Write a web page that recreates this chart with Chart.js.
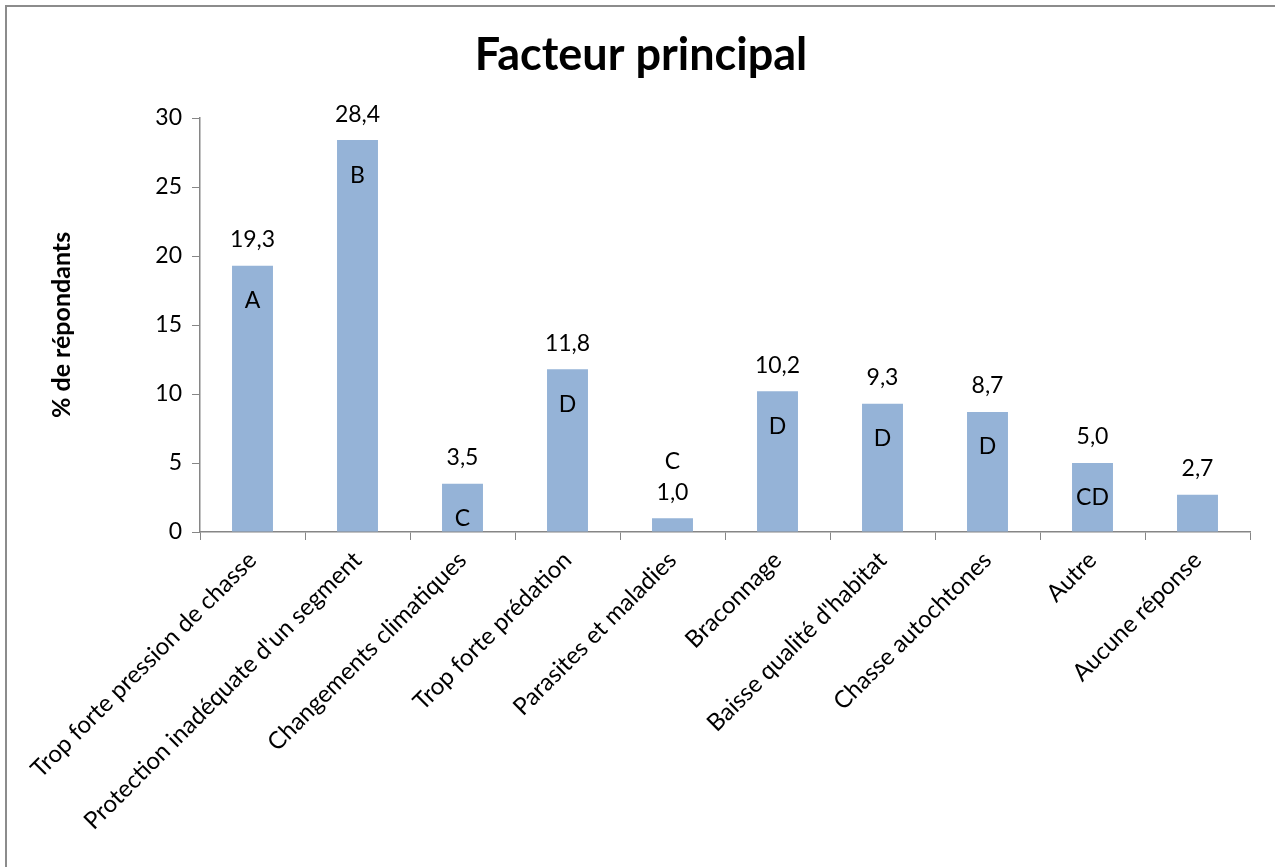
<!DOCTYPE html>
<html>
<head>
<meta charset="utf-8">
<script src="https://cdn.jsdelivr.net/npm/chart.js@4"></script>
<style>
  body { margin: 0; background: #fff; }
  #wrap { position: relative; width: 1275px; height: 867px; }
  #frame { position: absolute; left: 5px; top: 5px; right: 0; bottom: 0;
           border-left: 2px solid #8c8c8c; border-top: 2px solid #8c8c8c; pointer-events: none; }
</style>
</head>
<body>
<div id="wrap">
  <canvas id="myCanvas" width="1275" height="867"></canvas>
  <div id="frame"></div>
</div>
<script>
const categories = [
  "Trop forte pression de chasse",
  "Protection inadéquate d'un segment",
  "Changements climatiques",
  "Trop forte prédation",
  "Parasites et maladies",
  "Braconnage",
  "Baisse qualité d'habitat",
  "Chasse autochtones",
  "Autre",
  "Aucune réponse"
];
const values = [19.3, 28.4, 3.5, 11.8, 1.0, 10.2, 9.3, 8.7, 5.0, 2.7];
const letters = ["A", "B", "C", "D", "C", "D", "D", "D", "CD", ""];
const yTicks = [0, 5, 10, 15, 20, 25, 30];

const FONT = "Lato, 'Open Sans', sans-serif";
const axisColor = '#868686';

const fmt = v => v.toFixed(1).replace('.', ',');

const barLabels = {
  id: 'barLabels',
  afterDatasetsDraw(chart) {
    const ctx = chart.ctx;
    const meta = chart.getDatasetMeta(0);
    ctx.save();
    ctx.fillStyle = '#000';
    ctx.font = '23px ' + FONT;
    ctx.textAlign = 'center';
    ctx.textBaseline = 'middle';
    meta.data.forEach((bar, i) => {
      const top = bar.y;
      const h = bar.base - bar.y;
      ctx.fillText(fmt(values[i]), bar.x, top - 26);
      if (!letters[i]) return;
      if (h < 40) {
        ctx.fillText(letters[i], bar.x, top - 57);
      } else {
        ctx.fillText(letters[i], bar.x, top + 35);
      }
    });
    ctx.restore();
  }
};

const ctx = document.getElementById('myCanvas').getContext('2d');
new Chart(ctx, {
  type: 'bar',
  data: {
    labels: categories,
    datasets: [{
      data: values,
      backgroundColor: '#95b3d7',
      borderWidth: 0,
      categoryPercentage: 1,
      barPercentage: 0.39
    }]
  },
  options: {
    responsive: false,
    animation: false,
    layout: { padding: { left: 16, right: 9, top: 0, bottom: 0 } },
    plugins: {
      legend: { display: false },
      tooltip: { enabled: false },
      title: {
        display: true,
        text: 'Facteur principal',
        color: '#000',
        font: { family: FONT, size: 45, weight: 'bold' },
        padding: { top: 28, bottom: 36 }
      }
    },
    scales: {
      x: {
        grid: { drawOnChartArea: false, drawTicks: true, tickLength: 8, color: axisColor },
        border: { color: axisColor, width: 1.5 },
        ticks: {
          color: '#000',
          font: { family: FONT, size: 24 },
          minRotation: 45,
          maxRotation: 45,
          autoSkip: false,
          padding: 6
        },
        afterFit(scale) { scale.height = 335; }
      },
      y: {
        min: 0,
        max: 30,
        afterBuildTicks(scale) { scale.ticks = yTicks.map(v => ({ value: v })); },
        grid: { drawOnChartArea: false, drawTicks: true, tickLength: 8, color: axisColor },
        border: { color: axisColor, width: 1.5 },
        ticks: {
          color: '#000',
          font: { family: FONT, size: 23 },
          padding: 10
        },
        title: {
          display: true,
          text: '% de répondants',
          color: '#000',
          font: { family: FONT, size: 25, weight: 'bold' },
          padding: { top: 31, bottom: 0 }
        },
        afterFit(scale) { scale.width = 184; }
      },
      // empty right-hand spacer so the plot ends at the same place as the original
      yRight: {
        position: 'right',
        min: 0,
        max: 30,
        grid: { display: false },
        border: { display: false },
        ticks: { display: false },
        afterFit(scale) { scale.width = 16; }
      }
    }
  },
  plugins: [barLabels]
});
</script>
</body>
</html>
